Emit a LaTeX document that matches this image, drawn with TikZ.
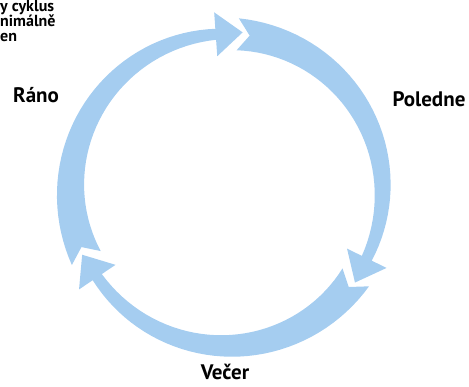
\documentclass[tikz,border=0pt]{standalone}
\usepackage{fontspec}
\setmainfont{PT Sans}
\usetikzlibrary{calc}
\definecolor{cyklus}{RGB}{165,205,240}
\tikzset{
  lbl/.style={font=\bfseries\fontsize{21}{24}\selectfont, inner sep=0pt, anchor=base},
  note/.style={font=\bfseries\fontsize{16}{16}\selectfont, inner sep=0pt, anchor=base west},
  sipka/.style={fill=cyklus, draw=none}
}
\begin{document}
\begin{tikzpicture}[x=1pt,y=-1pt]
\useasboundingbox (0,0) rectangle (469,387);
\begin{scope}[shift={(226.6,189.9)}]
\foreach \h in {266,26,146}{
  \fill[sipka] (\h-111.9:172)
    -- plot[domain=\h-111.9:\h, samples=40] ({(156+(11+21*(\h-\x)/111.9)/2)*cos(\x)},{(156+(11+21*(\h-\x)/111.9)/2)*sin(\x)})
    -- (\h:178) -- ($(\h:156)+(\h+90:27)$) -- (\h:134)
    -- plot[domain=\h:\h-111.9, samples=40] ({(156-(11+21*(\h-\x)/111.9)/2)*cos(\x)},{(156-(11+21*(\h-\x)/111.9)/2)*sin(\x)})
    -- (\h-107.5:156) -- cycle;
}
\end{scope}
\node[lbl] (rano) at (36,103) {Ráno};
\node[lbl] (poledne) at (429,107) {Poledne};
\node[lbl] (vecer) at (225,380) {Večer};
\node[note] (radek1) at (0,12) {y cyklus};
\node[note] (radek2) at (0,27) {nimálně};
\node[note] (radek3) at (0,42) {en};
\end{tikzpicture}
\end{document}
